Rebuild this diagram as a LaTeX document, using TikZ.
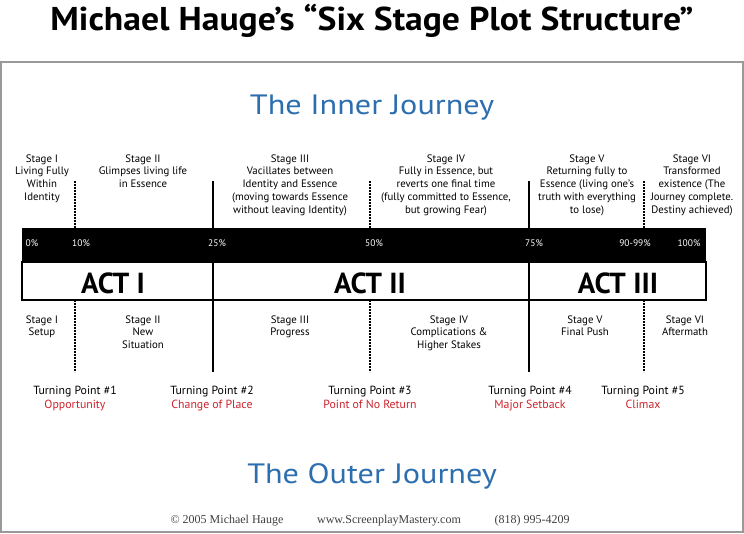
\documentclass[tikz,border=0pt]{standalone}
\usepackage{fontspec}
\setmainfont{PT Sans}
\newfontfamily\footfont{Liberation Serif}
\definecolor{journeyblue}{RGB}{45,110,175}
\definecolor{turnred}{RGB}{205,35,45}
\begin{document}
\begin{tikzpicture}[x=1pt,y=-1pt,thick,
        stagetext/.style={align=center,anchor=north,inner sep=0pt,font=\fontsize{10.8}{12.8}\selectfont},
        turntext/.style={align=center,anchor=north,inner sep=0pt,font=\fontsize{11.8}{14}\selectfont},
        pct/.style={text=white,inner sep=0pt,font=\fontsize{9.5}{10}\selectfont},
        actlabel/.style={font=\fontsize{29}{30}\selectfont\bfseries,inner sep=0pt},
        journey/.style={text=journeyblue,font=\fontsize{28}{30}\selectfont,inner sep=0pt},
        footer/.style={inner sep=0pt,text=black!75,font=\footfont\fontsize{12}{13}\selectfont},
        solidsep/.style={line width=2pt},
        dashsep/.style={line width=1.6pt,dash pattern=on 2pt off 1pt}]
    \useasboundingbox (0,0) rectangle (744,534);
    \fill[white] (0,0) rectangle (744,534);

    % title and frame
    \node (title) at (372,21) [inner sep=0pt,font=\fontsize{33}{36}\selectfont\bfseries] {\scalebox{1.08}[1]{Michael Hauge’s “Six Stage Plot Structure”}};
    \draw[gray!80,line width=1.2pt] (1,62) rectangle (743,532);
    \node (inner) at (372,108) [journey] {\scalebox{1.15}[1]{The Inner Journey}};

    % timeline bar
    \fill[black] (22,228) rectangle (706,262);
    \draw[line width=1.2pt] (22,262) rectangle (706,300);
    \draw[line width=1.2pt] (213,262) -- (213,300) (529,262) -- (529,300);

    \node (p0) at (32,243) [pct] {0\%};
    \node (p10) at (81,243) [pct] {10\%};
    \node (p25) at (217,243) [pct] {25\%};
    \node (p50) at (374,243) [pct] {50\%};
    \node (p75) at (534,243) [pct] {75\%};
    \node (p90) at (635,243) [pct] {90-99\%};
    \node (p100) at (689,243) [pct] {100\%};

    \node (act1) at (113,283) [actlabel] {ACT I};
    \node (act2) at (370,283) [actlabel] {ACT II};
    \node (act3) at (618,283) [actlabel] {ACT III};

    % stage dividers
    \foreach \x in {213,529} {
        \draw[solidsep] (\x,181) -- (\x,228);
        \draw[solidsep] (\x,300) -- (\x,372);
    }
    \foreach \x in {75,370,644} {
        \draw[dashsep] (\x,181) -- (\x,228);
        \draw[dashsep] (\x,300) -- (\x,372);
    }

    % inner journey stages
    \node (in1) at (42,154) [stagetext] {Stage I\\Living Fully\\Within\\Identity};
    \node (in2) at (143,154) [stagetext] {Stage II\\Glimpses living life\\in Essence};
    \node (in3) at (290,154) [stagetext] {Stage III\\Vacillates between\\Identity and Essence\\(moving towards Essence\\without leaving Identity)};
    \node (in4) at (446,154) [stagetext] {Stage IV\\Fully in Essence, but\\reverts one final time\\(fully committed to Essence,\\but growing Fear)};
    \node (in5) at (587,154) [stagetext] {Stage V\\Returning fully to\\Essence (living one’s\\truth with everything\\to lose)};
    \node (in6) at (692,154) [stagetext] {Stage VI\\Transformed\\existence (The\\Journey complete.\\Destiny achieved)};

    % outer journey stages
    \node (out1) at (42,315) [stagetext] {Stage I\\Setup};
    \node (out2) at (143,315) [stagetext] {Stage II\\New\\Situation};
    \node (out3) at (290,315) [stagetext] {Stage III\\Progress};
    \node (out4) at (449,315) [stagetext] {Stage IV\\Complications \&\\Higher Stakes};
    \node (out5) at (585,315) [stagetext] {Stage V\\Final Push};
    \node (out6) at (685,315) [stagetext] {Stage VI\\Aftermath};

    % turning points
    \node (tp1) at (75,386) [turntext] {Turning Point \#1\\\textcolor{turnred}{Opportunity}};
    \node (tp2) at (212,386) [turntext] {Turning Point \#2\\\textcolor{turnred}{Change of Place}};
    \node (tp3) at (370,386) [turntext] {Turning Point \#3\\\textcolor{turnred}{Point of No Return}};
    \node (tp4) at (530,386) [turntext] {Turning Point \#4\\\textcolor{turnred}{Major Setback}};
    \node (tp5) at (643,386) [turntext] {Turning Point \#5\\\textcolor{turnred}{Climax}};

    \node (outer) at (372,476) [journey] {\scalebox{1.15}[1]{The Outer Journey}};

    % footer
    \node (copy) at (227,521) [footer] {© 2005 Michael Hauge};
    \node (web) at (389,521) [footer] {www.ScreenplayMastery.com};
    \node (phone) at (532,521) [footer] {(818) 995-4209};
\end{tikzpicture}
\end{document}
